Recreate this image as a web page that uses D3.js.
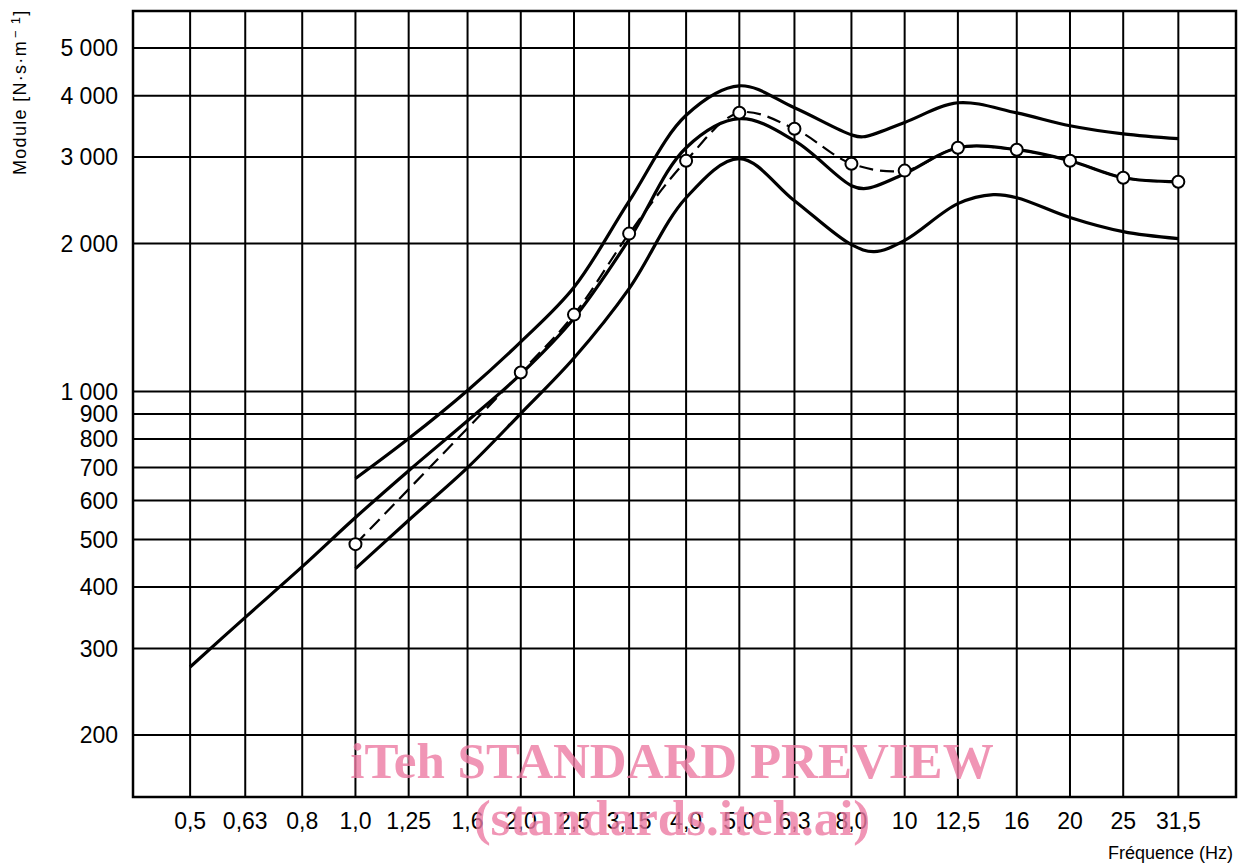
<!DOCTYPE html>
<html>
<head>
<meta charset="utf-8">
<script src="https://cdn.jsdelivr.net/npm/d3@7"></script>
<style>
  body { margin: 0; background: #fff; }
  svg { display: block; }
  .tick-label { font-family: "Liberation Sans", Arial, sans-serif; font-size: 23px; fill: #000; }
  .axis-title { font-family: "Liberation Sans", Arial, sans-serif; font-size: 18px; fill: #000; }
  .watermark { font-family: "Liberation Serif", "Times New Roman", serif; font-weight: bold; font-size: 51px; fill: #ec7aa2; fill-opacity: 0.8; }
</style>
</head>
<body>
<div id="chart"></div>
<script>
// x categories (third-octave centre frequencies) and their printed labels
const freqs = [0.5, 0.63, 0.8, 1.0, 1.25, 1.6, 2.0, 2.5, 3.15, 4.0, 5.0, 6.3, 8.0, 10, 12.5, 16, 20, 25, 31.5];
const freqLabels = ['0,5', '0,63', '0,8', '1,0', '1,25', '1,6', '2,0', '2,5', '3,15', '4,0', '5,0', '6,3', '8,0', '10', '12,5', '16', '20', '25', '31,5'];

// y grid values and labels
const gridValues = [200, 300, 400, 500, 600, 700, 800, 900, 1000, 2000, 3000, 4000, 5000];
const gridLabels = ['200', '300', '400', '500', '600', '700', '800', '900', '1 000', '2 000', '3 000', '4 000', '5 000'];

// curves: [frequency Hz, modulus N·s/m]
const upperCurve = [[1.0, 665], [1.25, 802], [1.6, 1005], [2.0, 1262], [2.5, 1630], [3.15, 2440], [4.0, 3650],
  [5.0, 4190], [6.3, 3780], [8.0, 3330], [8.4, 3300], [10, 3530], [12.5, 3870], [16, 3690], [20, 3475], [25, 3345], [31.5, 3270]];
const middleCurve = [[0.5, 275], [0.63, 347], [0.8, 440], [1.0, 554], [1.25, 690], [1.6, 872], [2.0, 1085], [2.5, 1410],
  [3.15, 2040], [4.0, 3135], [5.0, 3592], [6.3, 3240], [8.0, 2624], [8.5, 2590], [10, 2776], [12.5, 3135], [16, 3106],
  [20, 2950], [25, 2724], [31.5, 2673]];
const lowerCurve = [[1.0, 436], [1.25, 547], [1.6, 700], [2.0, 902], [2.5, 1170], [3.15, 1620], [4.0, 2480],
  [5.0, 2980], [6.3, 2446], [8.0, 1990], [8.8, 1926], [10, 2030], [12.5, 2412], [14.5, 2516], [16, 2480], [20, 2260],
  [25, 2115], [31.5, 2047]];
// measured points (circles joined by the dashed line)
const measured = [[1.0, 489], [2.0, 1093], [2.5, 1434], [3.15, 2096], [4.0, 2950], [5.0, 3693], [6.3, 3426], [8.0, 2909],
  [10, 2816], [12.5, 3135], [16, 3106], [20, 2950], [25, 2724], [31.5, 2673]];

// layout
const width = 1245;
const height = 864;
const plotL = 133, plotR = 1236, plotT = 11, plotB = 797;

// scales (log-log)
const x = d3.scaleLog()
  .domain([0.5 / Math.pow(10, 0.104), 31.5 * Math.pow(10, 0.105)])
  .range([plotL, plotR]);
const y = d3.scaleLog()
  .domain([149.5, 5950])
  .range([plotB, plotT]);

const svg = d3.select('#chart').append('svg')
  .attr('width', width)
  .attr('height', height);

// grid
const grid = svg.append('g').classed('grid', true)
  .attr('stroke', '#000')
  .attr('stroke-width', 2);

grid.selectAll('.vline')
  .data(freqs)
  .enter()
  .append('line')
  .classed('vline', true)
  .attr('x1', d => x(d)).attr('x2', d => x(d))
  .attr('y1', plotT).attr('y2', plotB);

grid.selectAll('.hline')
  .data(gridValues)
  .enter()
  .append('line')
  .classed('hline', true)
  .attr('x1', plotL).attr('x2', plotR)
  .attr('y1', d => y(d)).attr('y2', d => y(d));

// frame
svg.append('rect')
  .attr('x', plotL).attr('y', plotT)
  .attr('width', plotR - plotL).attr('height', plotB - plotT)
  .attr('fill', 'none')
  .attr('stroke', '#000')
  .attr('stroke-width', 2.5);

// y labels
svg.append('g').selectAll('text')
  .data(gridValues)
  .enter()
  .append('text')
  .classed('tick-label', true)
  .attr('x', 118)
  .attr('y', d => y(d))
  .attr('dy', '0.36em')
  .attr('text-anchor', 'end')
  .text((d, i) => gridLabels[i]);

// x labels
svg.append('g').selectAll('text')
  .data(freqs)
  .enter()
  .append('text')
  .classed('tick-label', true)
  .attr('x', d => x(d))
  .attr('y', 829)
  .attr('text-anchor', 'middle')
  .text((d, i) => freqLabels[i]);

// axis titles
const yTitle = svg.append('text')
  .classed('axis-title', true)
  .attr('transform', 'translate(26,175) rotate(-90)')
  .attr('text-anchor', 'start')
  .attr('letter-spacing', 1.3);
yTitle.append('tspan').text('Module [N·s·m');
yTitle.append('tspan').attr('font-size', 13).attr('dx', 2).attr('dy', -6).text('− 1');
yTitle.append('tspan').attr('dy', 6).text(']');

svg.append('text')
  .classed('axis-title', true)
  .attr('x', 1233)
  .attr('y', 859)
  .attr('text-anchor', 'end')
  .attr('font-size', 19)
  .text('Fréquence (Hz)');

// curves
const line = d3.line()
  .x(d => x(d[0]))
  .y(d => y(d[1]))
  .curve(d3.curveCatmullRom.alpha(0.5));

const curves = svg.append('g').classed('curves', true);

curves.selectAll('.curve')
  .data([upperCurve, middleCurve, lowerCurve])
  .enter()
  .append('path')
  .classed('curve', true)
  .attr('d', line)
  .attr('fill', 'none')
  .attr('stroke', '#000')
  .attr('stroke-width', 3.2)
  .attr('stroke-linejoin', 'round');

curves.append('path')
  .datum(measured)
  .attr('d', line)
  .attr('fill', 'none')
  .attr('stroke', '#000')
  .attr('stroke-width', 2.2)
  .attr('stroke-dasharray', '14,7');

curves.selectAll('.point')
  .data(measured)
  .enter()
  .append('circle')
  .classed('point', true)
  .attr('cx', d => x(d[0]))
  .attr('cy', d => y(d[1]))
  .attr('r', 6)
  .attr('fill', '#fff')
  .attr('stroke', '#000')
  .attr('stroke-width', 2);

// watermark
svg.append('text')
  .classed('watermark', true)
  .attr('x', 672)
  .attr('y', 778)
  .attr('text-anchor', 'middle')
  .text('iTeh STANDARD PREVIEW');
svg.append('text')
  .classed('watermark', true)
  .attr('x', 672)
  .attr('y', 835)
  .attr('text-anchor', 'middle')
  .text('(standards.iteh.ai)');
</script>
</body>
</html>
